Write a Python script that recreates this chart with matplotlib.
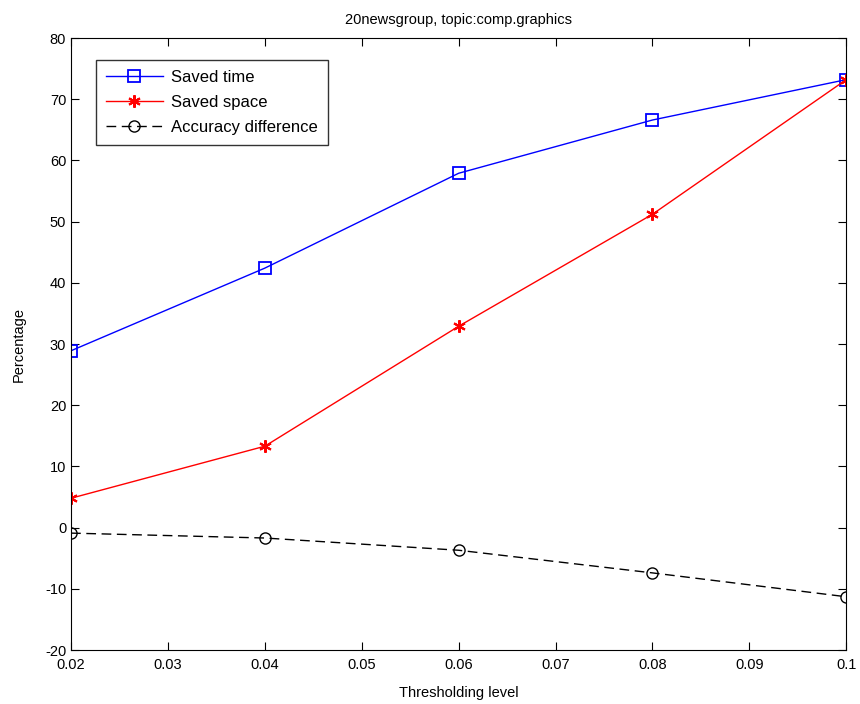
import matplotlib
matplotlib.use("Agg")
import matplotlib.pyplot as plt

plt.rcParams['font.family'] = ['Liberation Sans', 'DejaVu Sans']
plt.rcParams['axes.unicode_minus'] = False

# данные
threshold = [0.02, 0.04, 0.06, 0.08, 0.1]
saved_time = [28.9, 42.4, 57.9, 66.6, 73.2]
saved_space = [4.8, 13.3, 32.9, 51.2, 73.2]
accuracy_diff = [-0.9, -1.7, -3.7, -7.4, -11.3]
xticks = [0.02, 0.03, 0.04, 0.05, 0.06, 0.07, 0.08, 0.09, 0.1]
xtick_labels = ['0.02', '0.03', '0.04', '0.05', '0.06', '0.07', '0.08', '0.09', '0.1']

fig = plt.figure(figsize=(8.6, 7.04), dpi=100)
ax = fig.add_axes([0.0826, 0.0767, 0.9014, 0.8693])

ax.plot(threshold, saved_time, color='blue', marker='s', markersize=8,
        markerfacecolor='none', markeredgecolor='blue', markeredgewidth=1.3,
        linewidth=1, label='Saved time')
# звёздочка как в MATLAB — шесть лучей
ax.plot(threshold, saved_space, color='red', marker=(6, 2, 0), markersize=9,
        markeredgewidth=1.5, linewidth=1, label='Saved space')
ax.plot(threshold, accuracy_diff, color='black', linestyle='--', dashes=(7, 4),
        marker='o', markersize=8, markerfacecolor='none', linewidth=1,
        label='Accuracy difference')

ax.set_xlim(0.02, 0.1)
ax.set_ylim(-20, 80)
ax.set_xticks(xticks)
ax.set_xticklabels(xtick_labels)
ax.set_yticks(range(-20, 81, 10))
ax.tick_params(direction='in', top=True, right=True, length=6, labelsize=10.5)
ax.tick_params(axis='x', pad=6)

ax.set_title('20newsgroup, topic:comp.graphics', fontsize=10.5, pad=10)
ax.set_xlabel('Thresholding level', fontsize=10.5, labelpad=10)
ax.set_ylabel('Percentage', fontsize=10.5, labelpad=14)

leg = ax.legend(loc='upper left', bbox_to_anchor=(0.032, 0.964), borderaxespad=0,
                fancybox=False, edgecolor='black', fontsize=12, handlelength=3.4,
                borderpad=0.6, labelspacing=0.6, handletextpad=0.5)
leg.get_frame().set_linewidth(1)

fig.savefig('out.png', dpi=100)
